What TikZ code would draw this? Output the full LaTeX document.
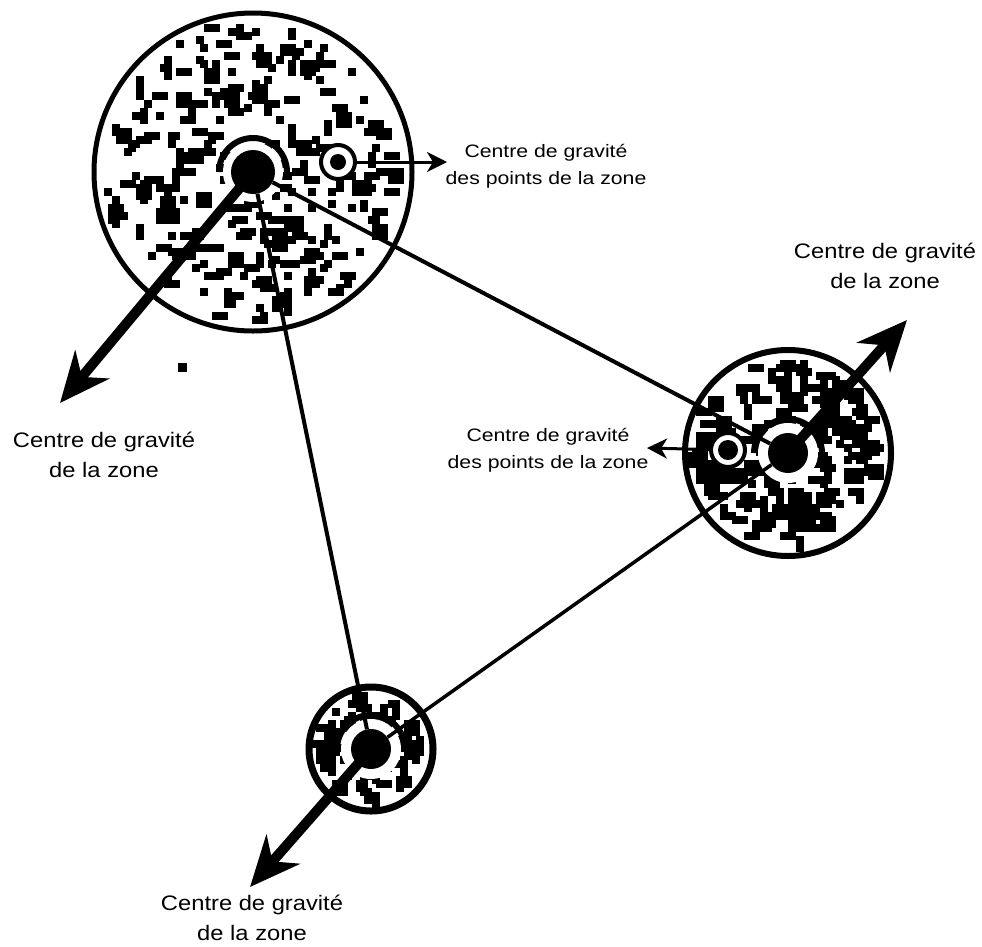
\documentclass[tikz,border=0pt]{standalone}
\usepackage{fontspec}
\setmainfont{Liberation Sans}
\newfontfamily\stretchA[FakeStretch=1.13]{Liberation Sans}
\newfontfamily\stretchB[FakeStretch=1.18]{Liberation Sans}
\usetikzlibrary{arrows.meta}
\newcommand\speckle[6]{% cx, cy, R, count, seed, big-probability
  \pgfmathsetseed{#5}%
  \foreach \k in {1,...,#4}{%
    \pgfmathsetmacro\rr{(#3)*sqrt(rnd)}%
    \pgfmathsetmacro\aa{360*rnd}%
    \pgfmathsetmacro\ww{ifthenelse(rnd<#6,16,8)}%
    \pgfmathsetmacro\hh{ifthenelse(rnd<#6*0.7,16,8)}%
    \pgfmathsetmacro\px{4*round((#1+\rr*cos(\aa)-\ww/2)/4)}%
    \pgfmathsetmacro\py{4*round((#2+\rr*sin(\aa)-\hh/2)/4)}%
    \fill (\px,\py) rectangle ++(\ww,\hh);
  }%
}
\begin{document}
\begin{tikzpicture}[x=1pt,y=-1pt,
  zone/.style={circle, draw, fill=white, inner sep=0pt},
  dotc/.style={circle, fill=black, inner sep=0pt},
  link/.style={line width=4pt},
  bigarrow/.style={line width=10pt, -{Stealth[length=50pt,width=44pt,inset=16pt]}},
  smallarrow/.style={line width=3pt, -{Stealth[length=20pt,width=20pt,inset=6pt]}},
  marker/.style={circle, draw, line width=4pt, fill=white, minimum size=34pt, inner sep=0pt},
  biglab/.style={align=center, font=\stretchA\fontsize{21}{30}\selectfont},
  smalllab/.style={align=center, font=\stretchB\fontsize{18}{27}\selectfont}]
\useasboundingbox (0,0) rectangle (982,946);
\fill[white] (0,0) rectangle (982,946);

% zones
\node[zone, line width=5pt, minimum size=318pt] (A) at (253,172) {};
\node[zone, line width=6pt, minimum size=206pt] (B) at (788,453) {};
\node[zone, line width=7pt, minimum size=124pt] (C) at (371,749) {};

% scattered points
\speckle{253}{172}{148}{300}{11}{0.3}
\speckle{788}{453}{92}{230}{23}{0.45}
\speckle{371}{749}{52}{85}{37}{0.35}
\fill (178,363) rectangle ++(9,9);

% white halos round the centres
\foreach \z in {A,B,C}{
  \fill[white] (\z.center) circle (30pt);
  \draw[line width=6pt] ([shift={(0:34pt)}]\z.center) arc[start angle=0, end angle=180, radius=34pt];
}

% centre dots
\node[dotc, minimum size=44pt] (a) at (A.center) {};
\node[dotc, minimum size=40pt] (b) at (B.center) {};
\node[dotc, minimum size=40pt] (c) at (C.center) {};

% links
\draw[link] (a) -- (b);
\draw[link] (a) -- (c);
\draw[link, line width=3.5pt] (b) -- (c);

% centres of the points
\node[marker] (ma) at (338,162) {};
\node[dotc, minimum size=16pt] at (ma.center) {};
\node[marker] (mb) at (728,450) {};
\node[dotc, minimum size=20pt] at (mb.center) {};

% arrow tips
\coordinate (tA) at (60,403);
\coordinate (tB) at (907,320);
\coordinate (tC) at (250,887);
\coordinate (sA) at (447,162);
\coordinate (sB) at (647,448);

\draw[bigarrow] (a.center) -- (tA);
\draw[bigarrow] (b.center) -- (tB);
\draw[bigarrow] (c.center) -- (tC);
\draw[smallarrow] (ma) -- (sA);
\draw[smallarrow] (mb) -- (sB);

% labels
\node[biglab] (LA) at (104,455) {Centre de gravité\\de la zone};
\node[biglab] (LB) at (885,266) {Centre de gravité\\de la zone};
\node[biglab] (LC) at (252,918) {Centre de gravité\\de la zone};
\node[smalllab] (SA) at (546,166) {Centre de gravité\\des points de la zone};
\node[smalllab] (SB) at (548,450) {Centre de gravité\\des points de la zone};
\end{tikzpicture}
\end{document}
